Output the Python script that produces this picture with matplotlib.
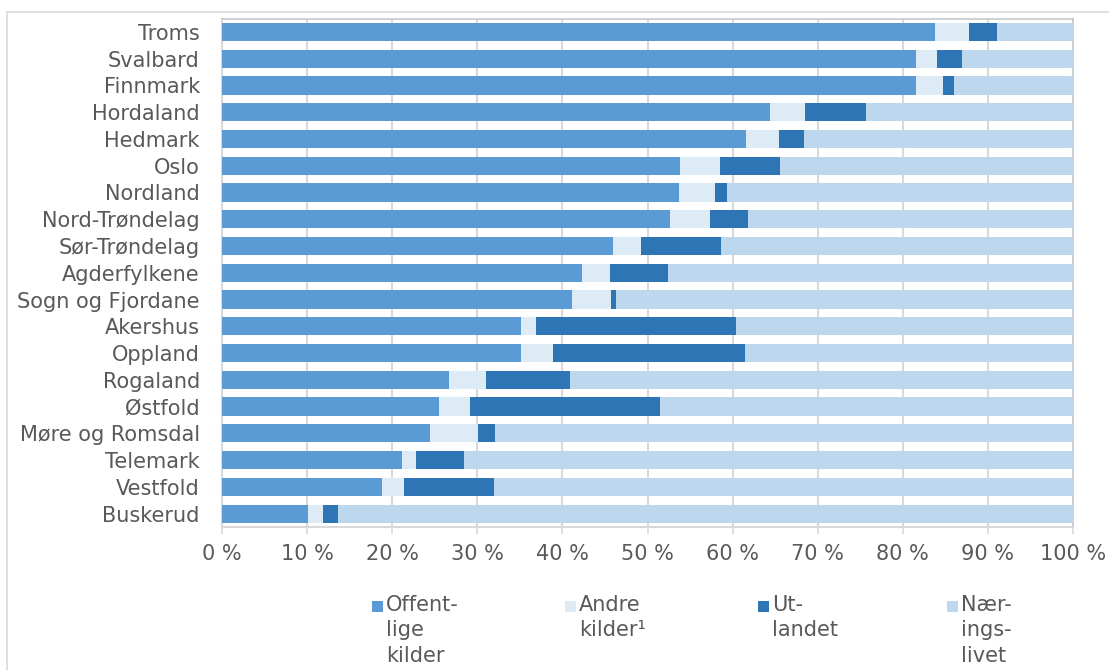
import matplotlib
matplotlib.use("Agg")
import matplotlib.pyplot as plt
from matplotlib.patches import Rectangle
import numpy as np

categories = ["Troms", "Svalbard", "Finnmark", "Hordaland", "Hedmark", "Oslo",
              "Nordland", "Nord-Trøndelag", "Sør-Trøndelag", "Agderfylkene",
              "Sogn og Fjordane", "Akershus", "Oppland", "Rogaland", "Østfold",
              "Møre og Romsdal", "Telemark", "Vestfold", "Buskerud"]
offentlige = [83.8, 81.6, 81.6, 64.4, 61.6, 53.8, 53.7, 52.6, 46.0, 42.3,
              41.1, 35.1, 35.1, 26.7, 25.5, 24.4, 21.1, 18.8, 10.1]
andre = [4.0, 2.4, 3.1, 4.1, 3.9, 4.7, 4.2, 4.8, 3.2, 3.3,
         4.6, 1.8, 3.8, 4.3, 3.6, 5.7, 1.7, 2.6, 1.8]
utlandet = [3.3, 2.9, 1.3, 7.2, 2.9, 7.1, 1.4, 4.4, 9.4, 6.8,
            0.6, 23.5, 22.6, 9.9, 22.4, 2.0, 5.6, 10.6, 1.7]
naeringslivet = [8.9, 13.1, 14.0, 24.3, 31.6, 34.4, 40.7, 38.2, 41.4, 47.6,
                 53.7, 39.6, 38.5, 59.1, 48.5, 67.9, 71.6, 68.0, 86.4]
series_labels = ["Offent-\nlige\nkilder", "Andre\nkilder¹", "Ut-\nlandet", "Nær-\nings-\nlivet"]
colors = ["#5B9BD5", "#DDEBF7", "#2E75B6", "#BDD7EE"]
xtick_labels = [f"{v} %" for v in range(0, 101, 10)]

plt.rcParams['font.family'] = ['DejaVu Sans']
text_color = "#595959"
fs = 15

fig = plt.figure(figsize=(11.09, 6.70), dpi=100)
W, H = 1109, 670
ax = fig.add_axes([222 / W, 1 - 527 / H, (1073 - 222) / W, (527 - 18.5) / H])

y = np.arange(len(categories))
data = [offentlige, andre, utlandet, naeringslivet]
left = np.zeros(len(categories))
for vals, c in zip(data, colors):
    vals = np.array(vals, dtype=float)
    ax.barh(y, vals, left=left, height=0.68, color=c, zorder=3)
    left += vals

ax.set_xlim(0, 100)
ax.set_ylim(len(categories) - 0.5, -0.5)
ax.set_yticks(y)
ax.set_yticklabels(categories, fontsize=fs, color=text_color)
ax.set_xticks(np.arange(0, 101, 10))
ax.set_xticklabels(xtick_labels, fontsize=fs, color=text_color)
ax.tick_params(axis='y', length=0, pad=16)
ax.tick_params(axis='x', length=5, width=1.2, color="#D9D9D9", pad=7, direction='out')
ax.xaxis.grid(True, color="#D9D9D9", linewidth=1.5, zorder=0)
ax.set_axisbelow(True)
for s in ["top", "right"]:
    ax.spines[s].set_color("#C8C8C8")
    ax.spines[s].set_linewidth(1.2)
ax.spines["left"].set_color("#D9D9D9")
ax.spines["left"].set_linewidth(1.5)
ax.spines["bottom"].set_color("#D9D9D9")
ax.spines["bottom"].set_linewidth(1.5)

# outer chart border
fig.patches.append(Rectangle((7 / W, -0.1), 1.2, 1 - 12 / H + 0.1, transform=fig.transFigure,
                             fill=False, edgecolor="#D9D9D9", linewidth=1.2, zorder=0))

# legend
leg_x = [372, 565, 758, 947]
for lx, lab, c in zip(leg_x, series_labels, colors):
    fig.patches.append(Rectangle((lx / W, 1 - 612 / H), 11 / W, 11 / H,
                                 transform=fig.transFigure, facecolor=c, edgecolor='none'))
    fig.text((lx + 14) / W, 1 - 595 / H, lab, fontsize=fs, color=text_color,
             va='top', ha='left', linespacing=1.34)

fig.savefig("out.png", dpi=100)
